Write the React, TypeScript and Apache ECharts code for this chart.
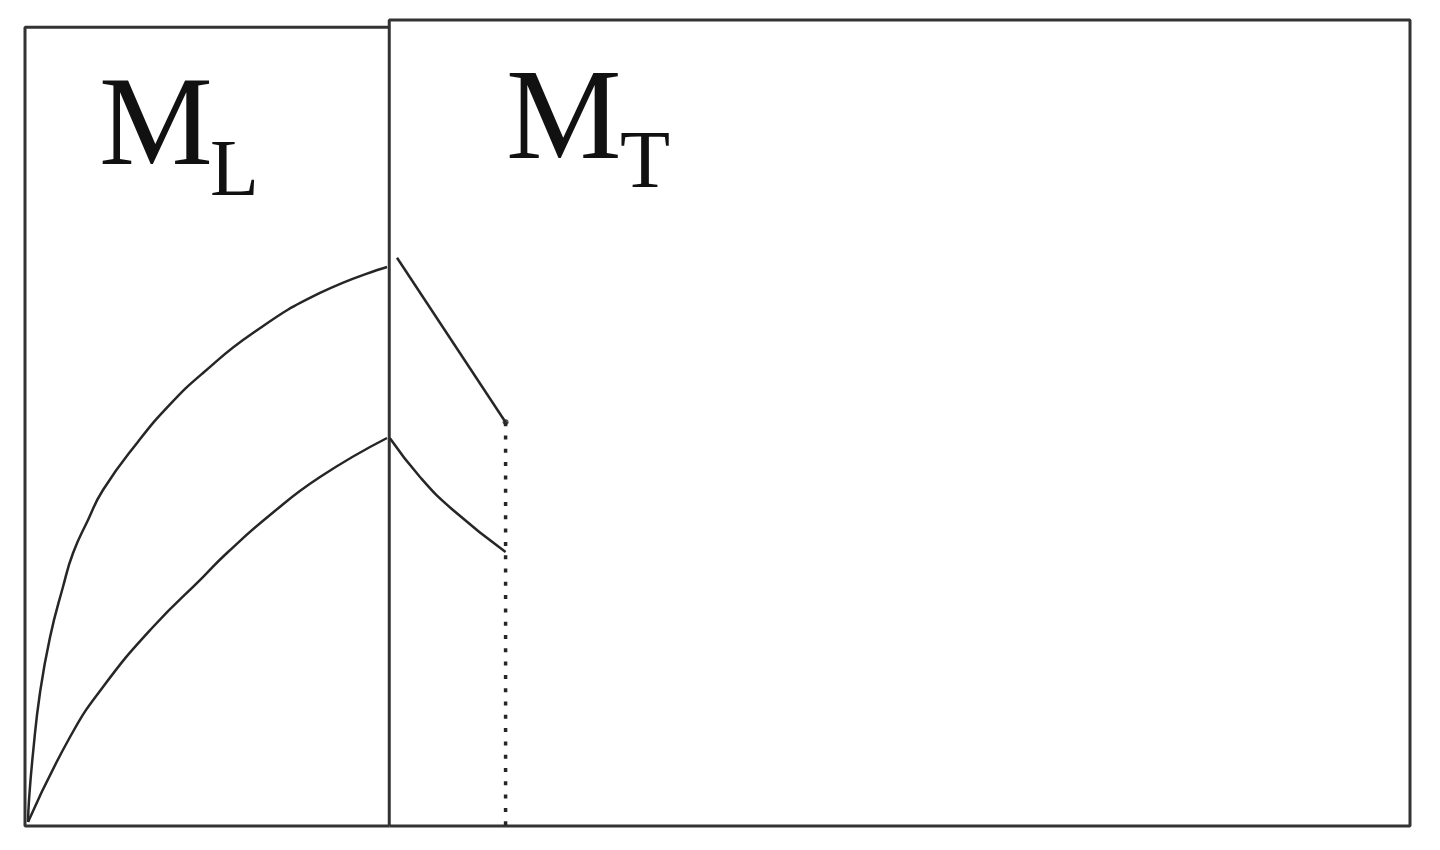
import React, { useEffect, useRef } from 'react';
import * as echarts from 'echarts';

// x: 0..100 across the frame, y: 0..100 bottom to top
const DIVIDER_X = 26.3;
const CUTOFF_X = 34.7;
const LEFT_TOP = 99.1;

const leftBox: number[][] = [
  [DIVIDER_X, 0], [0, 0], [0, LEFT_TOP], [DIVIDER_X, LEFT_TOP]
];
const rightBox: number[][] = [
  [DIVIDER_X, 0], [DIVIDER_X, 100], [100, 100], [100, 0], [DIVIDER_X, 0]
];

const upperRise: number[][] = [
  [0.22, 0.5], [0.29, 3.23], [0.58, 9.06], [1.08, 16.5], [1.81, 23.45], [2.74, 29.65],
  [3.47, 33.87], [4.55, 37.97], [5.63, 41.69], [8.09, 47.52], [10.47, 52.3],
  [12.85, 56.2], [16.46, 61.17], [21.3, 66.13], [26.14, 69.35]
];
const lowerRise: number[][] = [
  [0.22, 0.5], [3.25, 11.04], [5.63, 17.25], [9.24, 24.69], [12.85, 30.89],
  [14.58, 33.87], [17.69, 38.59], [21.3, 43.3], [26.14, 48.14]
];
const upperFall: number[][] = [[26.86, 70.5], [CUTOFF_X, 50.1]];
const lowerFall: number[][] = [
  [26.35, 48.1], [28.52, 43.3], [30.9, 39.2], [CUTOFF_X, 34.0]
];
const cutoff: number[][] = [[CUTOFF_X, 50.1], [CUTOFF_X, 0]];

const INK = '#262626';

const App: React.FC = () => {
  const chartRef = useRef<HTMLDivElement>(null);

  useEffect(() => {
    if (!chartRef.current) return;
    const chart = echarts.init(chartRef.current, undefined, { renderer: 'svg' });

    const line = (data: number[][], width: number, extra: any = {}) => ({
      type: 'line',
      data,
      showSymbol: false,
      clip: false,
      silent: true,
      lineStyle: { color: INK, width, ...extra.lineStyle },
      smooth: extra.smooth ?? false
    });

    chart.setOption({
      animation: false,
      backgroundColor: '#fff',
      grid: { left: 25, right: 30, top: 20, bottom: 24 },
      xAxis: { type: 'value', min: 0, max: 100, show: false },
      yAxis: { type: 'value', min: 0, max: 100, show: false },
      series: [
        line(leftBox, 3, { lineStyle: { color: '#333' } }),
        line(rightBox, 3, { lineStyle: { color: '#333' } }),
        line(upperRise, 2.5, { smooth: 0.5 }),
        line(lowerRise, 2.5, { smooth: 0.5 }),
        line(upperFall, 2.5),
        line(lowerFall, 2.5, { smooth: 0.5 }),
        line(cutoff, 3.5, { lineStyle: { type: [4, 9.3] } }),
        {
          type: 'scatter',
          data: [upperFall[1]],
          symbolSize: 6,
          silent: true,
          itemStyle: { color: INK }
        }
      ],
      graphic: [
        {
          type: 'text', left: 99, top: 57,
          style: { text: 'M', font: '128px "Liberation Serif", serif', fill: '#111' }
        },
        {
          type: 'text', left: 210, top: 128,
          style: { text: 'L', font: '80px "Liberation Serif", serif', fill: '#111' }
        },
        {
          type: 'text', left: 506, top: 49,
          style: { text: 'M', font: '130px "Liberation Serif", serif', fill: '#111' }
        },
        {
          type: 'text', left: 620, top: 118,
          style: { text: 'T', font: '82px "Liberation Serif", serif', fill: '#111' }
        }
      ]
    });

    return () => {
      chart.dispose();
    };
  }, []);

  return (
    <div
      ref={chartRef}
      style={{ position: 'fixed', left: 0, top: 0, width: '1440px', height: '850px' }}
    />
  );
};

export default App;
